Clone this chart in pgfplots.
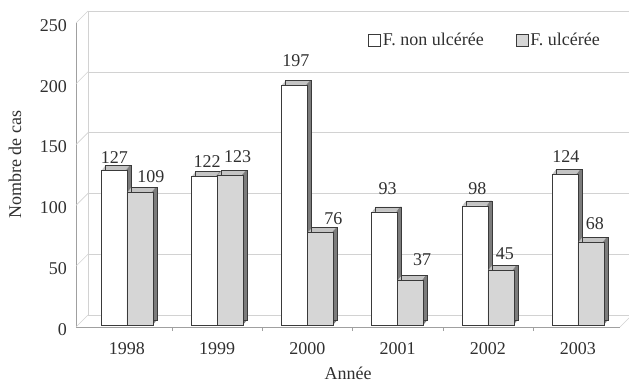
\documentclass[border=0pt]{standalone}
\usepackage{fontspec}
\setmainfont{Liberation Serif}
\usepackage{pgfplots}
\pgfplotsset{compat=1.18}
\usepackage{pgfplotstable}

\definecolor{gridc}{HTML}{D2D2D2}
\definecolor{axisc}{HTML}{A0A0A0}
\definecolor{barline}{HTML}{3A3A3A}
\definecolor{ulcfill}{HTML}{D6D6D6}
\definecolor{topc}{HTML}{C4C4C4}
\definecolor{sidec}{HTML}{7C7C7C}
\definecolor{textc}{HTML}{303030}

% year index, cases, label offsets from the bar centre (pt)
\pgfplotstableread{
x y dx dy
0 127 0.5 13
1 122 3 15.6
2 197 1.5 24.4
3 93 3 23.4
4 98 2.5 16.8
5 124 1 17.7
}\nonulc
\pgfplotstableread{
x y dx dy
0 109 11 15.5
1 123 7.5 18.4
2 76 13 13.6
3 37 11.5 20
4 45 4 16.3
5 68 4 18.3
}\ulc

\newcommand\cf{\fontsize{18}{21}\selectfont}

\pgfplotsset{
  common/.style={
    scale only axis, width=544pt, height=304pt,
    xmin=-0.565, xmax=5.466, ymin=0, ymax=250,
    separate axis lines, axis x line*=bottom, axis y line*=left,
  },
  bar3d/.style n args={2}{
    ybar, bar width=26pt, bar shift=#1, fill=#2, draw=barline, line width=0.5pt,
  },
  sqlegend/.style={
    legend image code/.code={\draw[##1, yshift=-2pt, draw=barline] (0pt,-6pt) rectangle (12pt,6pt);},
  },
  labelled/.style={
    point meta=explicit, nodes near coords,
    visualization depends on={\thisrow{dx}\as\ldx},
    visualization depends on={\thisrow{dy}\as\ldy},
    every node near coord/.append style={anchor=center, xshift={\ldx pt + #1}, yshift=\ldy pt,
      font=\cf, text=textc, inner sep=0pt},
  },
}

% top and side faces of one series of bars (bar shift, table)
\newcommand\depthfaces[2]{%
  \pgfplotsinvokeforeach{5,4,3,2,1}{
    \addplot[bar3d={#1}{topc}, draw=none, xshift={0.8*##1pt}, yshift={2pt+##1pt}, forget plot]
      table[x=x,y=y]{#2};
  }
  \pgfplotsinvokeforeach{5,4,3,2,1}{
    \addplot[ybar, bar width=1.8pt, bar shift={#1+12.1pt}, fill=sidec, draw=none,
      xshift={0.8*##1pt}, yshift={2pt+##1pt}, forget plot]
      table[x=x,y=y]{#2};
  }
  \addplot[bar3d={#1}{sidec}, fill=none, xshift=4pt, yshift=7pt, forget plot]
    table[x=x,y=y]{#2};
}

\begin{document}
\begin{tikzpicture}[x=1pt,y=1pt]

% back wall with gridlines
\begin{axis}[common, at={(88pt,68pt)}, anchor=south west,
  axis line style={gridc,-}, xtick=\empty,
  ytick={0,50,...,250}, yticklabels={}, major tick length=0pt,
  ymajorgrids, grid style={gridc, line width=0.6pt}]
\end{axis}

\begin{axis}[common, at={(76pt,56pt)}, anchor=south west, clip=false,
  axis line style={axisc,-, line width=0.6pt},
  ytick={0,50,...,250}, major tick length=0pt,
  xtick={0,...,5}, xticklabels={1998,1999,2000,2001,2002,2003},
  extra x ticks={0.5,1.5,2.5,3.5,4.5}, extra x tick labels={},
  extra x tick style={major tick length=4pt, tick align=outside, tick style={axisc}},
  /pgf/number format/assume math mode=true,
  tick label style={font=\cf, text=textc, inner sep=0pt},
  xticklabel style={anchor=north, yshift=-15pt},
  yticklabel style={anchor=east, xshift=-9pt, yshift=-2.5pt},
  xlabel={Année}, ylabel={Nombre de cas},
  xlabel style={at={(axis description cs:0.5,0)}, anchor=north, yshift=-40pt, inner sep=0pt, font=\cf, text=textc},
  ylabel style={at={(axis description cs:-0.112,0.533)}, anchor=center, inner sep=0pt, font=\cf, text=textc},
  legend columns=2,
  legend style={at={(axis description cs:0.537,0.944)}, anchor=west, draw=none, fill=none,
    inner sep=0pt, font=\cf, text=textc,
    /tikz/every even column/.append style={column sep=30pt}},
]
% side walls and floor edges
\pgfplotsinvokeforeach{0,50,100,150,200,250}{
  \draw[gridc, line width=0.6pt] (axis cs:-0.565,#1) -- ++(12pt,12pt);
}
\draw[gridc, line width=0.6pt] (axis cs:5.466,0) -- ++(12pt,12pt);

% white bars
\depthfaces{-13pt}{\nonulc}
\addplot[bar3d={-13pt}{white}, yshift=2pt, sqlegend, labelled={-13pt}]
  table[x=x,y=y,meta=y]{\nonulc};
\addlegendentry{F. non ulcérée}

% grey bars
\depthfaces{13pt}{\ulc}
\addplot[bar3d={13pt}{ulcfill}, yshift=2pt, sqlegend, labelled={13pt}]
  table[x=x,y=y,meta=y]{\ulc};
\addlegendentry{F. ulcérée}
\end{axis}

\pgfresetboundingbox
\useasboundingbox (0,0) rectangle (629,383);
\end{tikzpicture}
\end{document}
